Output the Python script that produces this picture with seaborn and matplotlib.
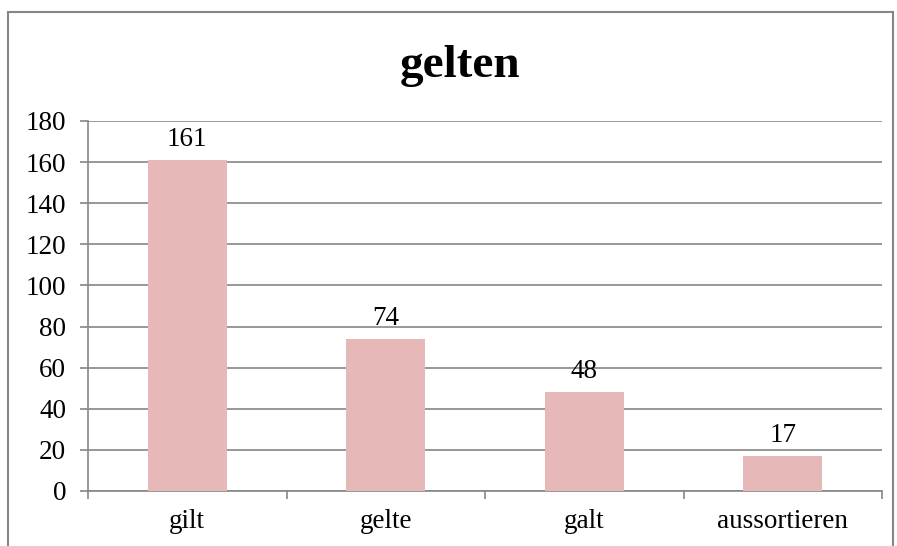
import matplotlib
matplotlib.use("Agg")
import matplotlib.pyplot as plt
import seaborn as sns
import pandas as pd
from matplotlib.patches import Rectangle

# data
forms = ["gilt", "gelte", "galt", "aussortieren"]
counts = [161, 74, 48, 17]
yticks = [0, 20, 40, 60, 80, 100, 120, 140, 160, 180]

sns.set_style("white")
plt.rcParams['font.family'] = ['Liberation Serif', 'DejaVu Serif']
plt.rcParams['text.color'] = 'black'
plt.rcParams['xtick.labelcolor'] = 'black'
plt.rcParams['ytick.labelcolor'] = 'black'

df = pd.DataFrame({"form": forms, "count": counts})

fig = plt.figure(figsize=(8.97, 5.46), dpi=100)
ax = fig.add_axes([88/897, 1-491/546, (882-88)/897, (491-121)/546])

sns.barplot(data=df, x="form", y="count", color="#E6B8B7", saturation=1,
            width=0.4, ax=ax, zorder=3, edgecolor="none", linewidth=0)

ax.set_ylim(0, 180)
ax.set_xlim(-0.5, len(forms)-0.5)
ax.set_yticks(yticks)
ax.set_yticklabels([str(t) for t in yticks], fontsize=19.5)
ax.yaxis.grid(True, color="#868686", linewidth=1.2, zorder=0)
ax.set_axisbelow(True)
ax.set_xlabel("")
ax.set_ylabel("")

# x ticks at category borders, labels in the middle
ax.set_xticks([i - 0.5 for i in range(len(forms)+1)])
ax.set_xticklabels([])
ax.set_xticks(range(len(forms)), minor=True)
ax.set_xticklabels(forms, minor=True, fontsize=19.5)
ax.tick_params(axis="x", which="major", bottom=True, length=5.5,
               color="#868686", width=1.2)
ax.tick_params(axis="x", which="minor", bottom=True, length=0, pad=13)
ax.tick_params(axis="y", left=True, length=5.8, color="#868686",
               width=1.2, pad=10)

for s in ["top", "right"]:
    ax.spines[s].set_visible(False)
for s in ["left", "bottom"]:
    ax.spines[s].set_color("#868686")
    ax.spines[s].set_linewidth(1.2)

for i, v in enumerate(counts):
    ax.text(i, v + 4, str(v), ha="center", va="bottom", fontsize=19.5,
            color="black")

fig.text(460/897, 1-66/546, "gelten", ha="center", va="center",
         fontsize=34, fontweight="bold", color="black")

fig.patches.append(Rectangle((8/897, -0.1), (893-8)/897, 1.1-12/546,
                             transform=fig.transFigure, fill=False,
                             edgecolor="#868686", linewidth=1.5))

fig.savefig("out.png", dpi=100)
